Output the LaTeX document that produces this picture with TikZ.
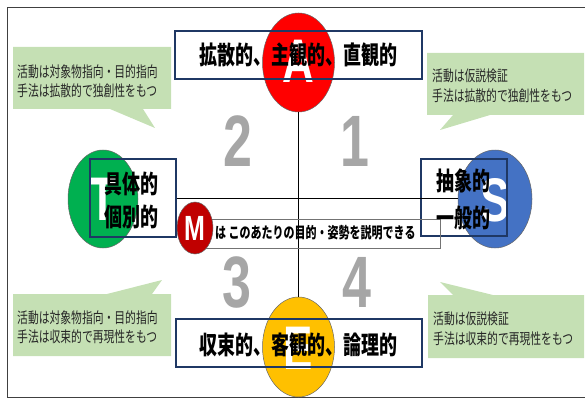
\documentclass[tikz,border=0pt]{standalone}
\usepackage{fontspec}
\usepackage{graphicx}
\setmainfont{Liberation Sans}
\newfontfamily\jp{Noto Sans CJK JP}
\usetikzlibrary{shapes.geometric}
\definecolor{cred}{RGB}{255,0,0}
\definecolor{cgreen}{RGB}{0,176,80}
\definecolor{cblue}{RGB}{68,114,196}
\definecolor{cgold}{RGB}{255,192,0}
\definecolor{cmred}{RGB}{192,0,0}
\definecolor{cnavy}{RGB}{31,56,100}
\definecolor{cdigit}{RGB}{166,166,166}
\definecolor{ccall}{RGB}{197,224,180}
\newcommand{\vs}[1]{\scalebox{1}[1.4]{#1}}
\tikzset{
  oval/.style={ellipse, draw=black!60, line width=0.5pt, inner sep=0pt},
  lbox/.style={draw=cnavy, line width=1.4pt, inner sep=0pt},
  callout/.style={fill=ccall, draw=none},
  calltext/.style={anchor=base west, inner sep=0pt, text=black!85, font=\jp\fontsize{10.8}{12}\selectfont},
  bigtext/.style={anchor=base, inner sep=0pt, font=\jp\bfseries\fontsize{18}{20}\selectfont},
  digit/.style={anchor=base, inner sep=0pt, text=cdigit, font=\bfseries\fontsize{52}{52}\selectfont},
  letter/.style={anchor=base, inner sep=0pt, text=white, font=\bfseries\fontsize{44}{44}\selectfont},
  axis/.style={draw=black, line width=0.9pt}
}
\begin{document}
\begin{tikzpicture}[x=1pt,y=-1pt]
\useasboundingbox (0,0) rectangle (585,398);
% frame
\draw[black!75, line width=0.9pt] (586,7) -- (7,7) -- (7,397) -- (586,397);
% callouts
\fill[callout] (13,47) -- (171,47) -- (171,109) -- (143,109) -- (155,128) -- (110,109) -- (13,109) -- cycle;
\fill[callout] (427,53) -- (584,53) -- (584,115) -- (490,115) -- (440,130) -- (453,115) -- (427,115) -- cycle;
\fill[callout] (13,294) -- (107,294) -- (162,280) -- (152,294) -- (171,294) -- (171,356) -- (13,356) -- cycle;
\fill[callout] (428,295) -- (453,295) -- (440,282) -- (493,295) -- (584,295) -- (584,358) -- (428,358) -- cycle;
\node[calltext] (tl1) at (17,77.8) {\vs{活動は対象物指向・目的指向}};
\node[calltext] (tl2) at (17,96.8) {\vs{手法は拡散的で独創性をもつ}};
\node[calltext] (tr1) at (432,81.8) {\vs{活動は仮説検証}};
\node[calltext] (tr2) at (432,101.8) {\vs{手法は拡散的で独創性をもつ}};
\node[calltext] (bl1) at (17,323.8) {\vs{活動は対象物指向・目的指向}};
\node[calltext] (bl2) at (17,342.8) {\vs{手法は収束的で再現性をもつ}};
\node[calltext] (br1) at (433,324.8) {\vs{活動は仮説検証}};
\node[calltext] (br2) at (433,344.8) {\vs{手法は収束的で再現性をもつ}};
% digits
\node[digit] (d2) at (238,166) {\vs{2}};
\node[digit] (d1) at (355,166) {\vs{1}};
\node[digit] (d3) at (237,307) {\vs{3}};
\node[digit] (d4) at (357,307) {\vs{4}};
% ellipses
\node[oval, fill=cred, minimum width=72, minimum height=99] (A) at (298.5,62.5) {};
\node[oval, fill=cgreen, minimum width=70, minimum height=98] (T) at (103,199) {};
\node[oval, fill=cblue, minimum width=74, minimum height=98] (S) at (495,199) {};
\node[oval, fill=cgold, minimum width=72, minimum height=100] (E) at (298.5,347) {};
% letters
\node[letter] (lA) at (298.5,83) {\vs{A}};
\node[letter] (lT) at (103,220) {\vs{T}};
\node[letter] (lS) at (495,221) {\vs{S}};
\node[letter] (lE) at (298.5,369) {\vs{E}};
% boxes
\node[lbox, minimum width=247, minimum height=48] (top) at (298.5,55) {};
\node[lbox, minimum width=246, minimum height=48] (bot) at (299,343) {};
\node[lbox, minimum width=86, minimum height=78] (L) at (133,198) {};
\node[lbox, minimum width=86, minimum height=77] (R) at (464,197.5) {};
% axes
\draw[axis] (A.south) -- (E.north);
\draw[axis] (L.east) -- (L.east -| S.west);
% M explanation
\node[draw=black!55, line width=0.8pt, minimum width=240, minimum height=29, inner sep=0pt] (mbox) at (320,233.5) {};
\node[oval, fill=cmred, minimum width=36, minimum height=52] (M) at (195,228) {};
\node[anchor=base, inner sep=0pt, text=white, font=\bfseries\fontsize{25}{25}\selectfont] (lM) at (195,240) {\vs{M}};
\node[anchor=base west, inner sep=0pt, font=\jp\bfseries\fontsize{11}{12}\selectfont] (mt) at (215,238.8) {\vs{は このあたりの目的・姿勢を説明できる}};
% labels
\node[bigtext] (tt) at (298,64.6) {\vs{拡散的、主観的、直観的}};
\node[bigtext] (bt) at (298,354.6) {\vs{収束的、客観的、論理的}};
\node[bigtext] (l1) at (131,193.6) {\vs{具体的}};
\node[bigtext] (l2) at (131,226.6) {\vs{個別的}};
\node[bigtext] (r1) at (463.5,190.6) {\vs{抽象的}};
\node[bigtext] (r2) at (463.5,227.6) {\vs{一般的}};
\end{tikzpicture}
\end{document}
